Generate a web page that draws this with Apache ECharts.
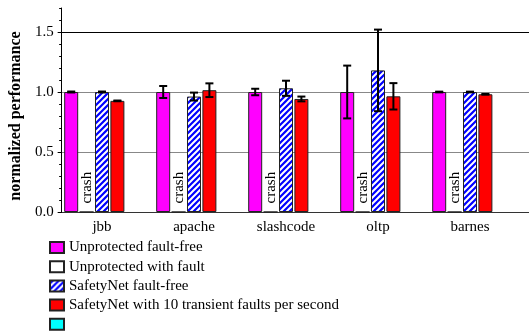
<!DOCTYPE html>
<html><head><meta charset="utf-8">
<script src="https://cdn.jsdelivr.net/npm/echarts@6/dist/echarts.min.js"></script>
<style>html,body{margin:0;padding:0;background:#fff}#c{width:529px;height:331px}</style>
</head><body><div id="c"></div>
<script>
// ---- data ----
var categories = ['jbb', 'apache', 'slashcode', 'oltp', 'barnes'];
var seriesNames = ['Unprotected fault-free', 'Unprotected with fault', 'SafetyNet fault-free', 'SafetyNet with 10 transient faults per second', ' '];
var unprotFree = [1.0, 1.0, 1.0, 1.0, 1.0];
var unprotFault = [0, 0, 0, 0, 0];
var crashLabels = ['crash', 'crash', 'crash', 'crash', 'crash'];
var safetyFree = [1.0, 0.962, 1.031, 1.18, 1.0];
var safetyFaults = [0.926, 1.015, 0.942, 0.964, 0.981];
var emptySeries = [null, null, null, null, null];
var errUnprotFree = [0.004, 0.05, 0.027, 0.22, 0.003];
var errSafetyFree = [0.004, 0.033, 0.063, 0.34, 0.003];
var errSafetyFaults = [0.003, 0.057, 0.02, 0.11, 0.003];
var yMajorTicks = [0, 0.5, 1.0, 1.5];

// ---- styles ----
var FONT = '"Liberation Serif", "Times New Roman", serif';
var BAR_W = 14, BAR_STEP = 15.4;
function hatch() {
  var s = 6, c = document.createElement('canvas');
  c.width = s; c.height = s;
  var g = c.getContext('2d');
  g.fillStyle = '#0000ff'; g.fillRect(0, 0, s, s);
  g.strokeStyle = '#ffffff'; g.lineWidth = 2;
  g.beginPath();
  g.moveTo(-1, s + 1); g.lineTo(s + 1, -1);
  g.moveTo(-s / 2 - 1, s / 2 + 1); g.lineTo(s / 2 + 1, -s / 2 - 1);
  g.moveTo(s / 2 - 1, s * 1.5 + 1); g.lineTo(s * 1.5 + 1, s / 2 - 1);
  g.stroke();
  return c;
}
var border = {borderColor: '#222', borderWidth: 1};
function barSeries(name, data, color, extra) {
  var s = {
    name: name, type: 'bar', xAxisIndex: 0, yAxisIndex: 0, data: data,
    barWidth: BAR_W, barGap: '10%',
    itemStyle: Object.assign({color: color}, border)
  };
  return Object.assign(s, extra || {});
}
var errData = [];
[[0, unprotFree, errUnprotFree], [2, safetyFree, errSafetyFree], [3, safetyFaults, errSafetyFaults]].forEach(function (e) {
  for (var i = 0; i < categories.length; i++) {
    errData.push([i, e[1][i] - e[2][i], e[1][i] + e[2][i], e[0]]);
  }
});

var chart = echarts.init(document.getElementById('c'), null, {renderer: 'canvas'});
chart.setOption({
  animation: false,
  backgroundColor: '#fff',
  grid: [
    {left: 56, right: 13, top: 8, bottom: 119},
    {left: 56, right: 0, top: 8, bottom: 119}
  ],
  xAxis: [
    {type: 'category', gridIndex: 0, data: categories,
      axisLine: {show: false}, axisTick: {show: false},
      axisLabel: {color: '#000', fontFamily: FONT, fontSize: 15, margin: 8}},
    {type: 'value', gridIndex: 1, min: 0, max: 1,
      axisLine: {show: true, onZero: false, lineStyle: {color: '#333', width: 1}},
      axisTick: {show: false}, axisLabel: {show: false}, splitLine: {show: false}}
  ],
  yAxis: [
    {type: 'value', gridIndex: 0, min: 0, max: 1.7, show: false, splitLine: {show: false}},
    {type: 'value', gridIndex: 1, position: 'left', min: 0, max: 1.7, interval: 0.5,
      name: 'normalized performance', nameLocation: 'middle', nameGap: 30,
      nameTextStyle: {color: '#000', fontFamily: FONT, fontSize: 16, fontWeight: 'bold', padding: [0, 0, 0, -12]},
      axisLine: {show: true, lineStyle: {color: '#000', width: 1}},
      axisTick: {show: true, length: 4, customValues: yMajorTicks, lineStyle: {color: '#000'}},
      axisLabel: {color: '#000', fontFamily: FONT, fontSize: 15, margin: 8, customValues: yMajorTicks,
        formatter: function (v) { return (+v).toFixed(1); }},
      splitLine: {show: true, lineStyle: {color: ['#333', '#888', '#888', '#000', 'rgba(0,0,0,0)'], width: 1.2}}},
    {type: 'value', gridIndex: 1, position: 'left', offset: 0, min: 0, max: 1.7, interval: 0.1,
      axisLine: {show: false}, axisLabel: {show: false}, splitLine: {show: false},
      axisTick: {show: true, length: 2.5, lineStyle: {color: '#000'}}}
  ],
  legend: {
    orient: 'vertical', left: 49, top: 240, width: 400, height: 140, padding: 0,
    itemWidth: 14, itemHeight: 11, itemGap: 4.2,
    icon: 'rect', data: seriesNames,
    textStyle: {color: '#000', fontFamily: FONT, fontSize: 15, lineHeight: 14}
  },
  series: [
    barSeries(seriesNames[0], unprotFree, '#ff00ff'),
    barSeries(seriesNames[1], unprotFault, '#ffffff', {
      label: {show: true, position: 'top', rotate: 90, align: 'left', verticalAlign: 'middle', distance: 8,
        color: '#000', fontFamily: FONT, fontSize: 15,
        formatter: function (p) { return crashLabels[p.dataIndex]; }}
    }),
    barSeries(seriesNames[2], safetyFree, {image: hatch(), repeat: 'repeat'}),
    barSeries(seriesNames[3], safetyFaults, '#ff0000'),
    barSeries(seriesNames[4], emptySeries, '#00ffff'),
    {
      type: 'custom', xAxisIndex: 0, yAxisIndex: 0, data: errData, z: 10,
      renderItem: function (params, api) {
        var k = api.value(3);
        var top = api.coord([api.value(0), api.value(2)]);
        var bot = api.coord([api.value(0), api.value(1)]);
        var x = top[0] + (k - 2) * BAR_STEP;
        var cw = 4, st = {stroke: '#000', lineWidth: 2};
        return {type: 'group', children: [
          {type: 'line', shape: {x1: x, y1: top[1], x2: x, y2: bot[1]}, style: st},
          {type: 'line', shape: {x1: x - cw, y1: top[1], x2: x + cw, y2: top[1]}, style: st},
          {type: 'line', shape: {x1: x - cw, y1: bot[1], x2: x + cw, y2: bot[1]}, style: st}
        ]};
      }
    }
  ]
});
</script></body></html>
